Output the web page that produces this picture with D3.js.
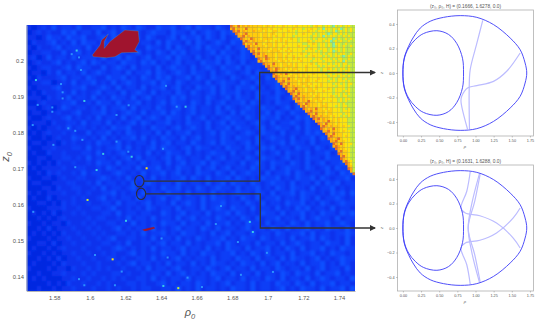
<!DOCTYPE html>
<html>
<head>
<meta charset="utf-8">
<script src="https://cdn.jsdelivr.net/npm/d3@7"></script>
<style>
  body { margin: 0; background: #fff; }
  text { font-family: "Liberation Sans", sans-serif; }
</style>
</head>
<body>
<script>
// heat levels of the blue part, coarse grid of 66 columns and 53 rows (top row first)
var blueRows = [
  "1012131221 3112231213 2132113223 1231322132 1322312132 2312231322 131223",
  "0121211323 1221312312 1321232213 2213123213 2312132231 3221321232 213122",
  "1101322132 2311231322 3121321123 1322313213 1232312213 2312322132 312231",
  "0211231213 1322132213 2312213132 2131321232 1322132312 2132231231 322132",
  "1021123122 2131212313 2211322131 3212313221 3123221312 3221321322 132213",
  "0112211312 3121321322 1231213213 2312212313 2213213231 2231322132 312231",
  "1201312213 1222131231 3212312231 3221312132 3123213221 3213212322 131223",
  "0121123121 2313212213 2213231212 3122132231 3213122313 2132312213 232132",
  "1012211231 3221131232 1312213123 2213123213 2231322123 1322132213 123213",
  "0110213122 1312321221 3122313212 3213221312 3212313221 3212312231 322132",
  "1021112312 2132113223 1213213231 2231321322 1321232132 2132213213 123122",
  "0112201213 1223121312 3212231321 3212213123 2213213122 3132212313 221321",
  "1011123112 2311232131 2213122312 3121322313 2132231212 3122132313 212322",
  "0102112213 1212312213 1232131221 3213212313 2231213221 3213122312 132213",
  "1110212131 2213121322 1312312213 2312213212 3132213122 3123213221 312232",
  "0012111223 1121322131 2231212313 2213213123 1223132121 3221312231 322131",
  "1101201321 2212131223 1312213212 3123122131 3212321322 1231322132 123212",
  "0110112112 3112231212 3213122313 2123122132 1313221231 3213222131 231322",
  "1001211231 2121312213 1231232132 2131231212 3221321322 3121323122 132213",
  "0111021122 1312213121 2313212231 2132213123 1322123213 1223213213 122312",
  "1010112131 2212121322 3112132212 3123213122 3132212312 3221313221 321232",
  "0101211212 1131223121 3212213131 2231212313 2212321322 1312213232 131223",
  "1001012113 2212131212 2313121322 1312312213 2132213123 2213122313 212322",
  "0110110212 1121322131 2122131231 2213212313 2212313212 2313221312 231322",
  "1001121112 2131212231 3121231322 1231322121 3221321323 1221322132 132123",
  "0100211211 1221312123 1221312132 2131212322 1312213212 3132213122 312232",
  "0011011221 2131221212 3131221231 3212213123 1221321322 1231213221 322132",
  "1010102112 1121322131 2213122131 2312231321 2213123213 2213213123 122312",
  "0101111211 2211213212 2131223121 3221312312 3122132213 1232213212 313221",
  "0010212112 1312211232 1213122312 3121322132 1312322131 2231321221 321323",
  "1001101211 2211232121 3122131212 2313213122 3132121322 3121322313 212231",
  "0110011122 1121312212 1312321221 3212213123 1322132123 2213122131 323122",
  "0001102112 2112131221 2312121322 3121321232 2131223121 3213221312 231212",
  "1010111211 2121122312 1213122132 2131221312 1232213213 1223132212 132313",
  "0100201112 1211231212 2131212312 3122131322 1213213122 3122132131 223212",
  "0011010212 1121122131 2212312213 1232131223 1221321312 2132231213 212322",
  "1000111211 2112212311 2121321221 3122131232 1322131221 3121323122 131221",
  "0101020112 1211122131 2212211321 2312213122 3132121322 1312231213 221323",
  "0010101211 1121221121 3122131221 3123122132 1213213122 3122131232 213122",
  "1001011021 1212112212 1312121322 1312213122 3121322131 2213213122 312321",
  "0010201112 1121211231 2122131212 3122132131 2212312213 2131223121 322131",
  "0101010211 2112121122 1213122312 1322121312 3122131221 3212231312 212232",
  "1000101121 1211212311 2212131221 3121321223 1213221321 2213122313 212131",
  "0011020112 1121122121 3112212312 2131212231 3212213122 1312321221 322131",
  "0100101211 1211211232 1212131221 2312213121 3221312231 2132131223 121322",
  "1001010112 1121121211 2312121322 1312132212 2312132131 2213122312 132212",
  "0010102011 2112112212 1122131212 3121221312 2132213122 1313221231 212322",
  "0100010211 1211211121 2312212131 2213121322 1213221312 3122131223 121321",
  "1000101102 1121212112 1121312212 3112213212 3122131221 3212213123 122131",
  "0010011211 1212111221 2112122131 2312121322 1312213122 1321322131 223121",
  "0101000112 1121121212 1122131212 2131221231 2213122132 1312213123 212213",
  "0000101021 1211212111 2212112312 1221321212 3122131221 3221321312 231221",
  "0010010112 1112112121 1212211221 3121312212 1322131221 2312132213 122313"
];

// heat levels of the wedge at the upper right, finer cells, each row ends at the right edge
var wedgeRows = [
  "a98a898988 8887887877 7877778777 7767877677 6g76767766",
  "9a8988a888 8788878777 8777787776 7787767g77 6767g67676",
  "a9a8988898 8878778877 7787767777 8776777676 7g6767676",
  "a989a88888 7887887778 7777677877 7676776g67 76767666",
  "99a8988887 8878787787 7767777776 7767g76776 7676766",
  "a988a98878 8887778777 8776777767 6777677g67 667676",
  "9a98988887 8778787877 7767778767 77677g6767 66766",
  "a8998a8878 8878777877 7777667787 677676g776 67666",
  "9a89888878 8787787777 7877767776 77676g6767 6676",
  "a998a88887 8878778777 7776787767 7767677676 666",
  "9a8988878 8887787877 7767777676 7767g67676 666",
  "a9a898888 7887787777 8776777767 6776767766 76",
  "9989a8887 8878778777 7677877767 676776g676 6",
  "a98a98878 8787787877 7776776777 67677667 66",
  "9a8988887 8878777787 7767777677 76767g76 66",
  "a998a8878 8787877777 8767777676 7767766 6",
  "9a8988788 8878777877 7767677776 767676 6",
  "a98a98878 7887778777 7767787676 77676 6",
  "99a888878 8787787777 7677677767 6776 6",
  "a9898a878 8878777877 7767767776 766 6",
  "9a98887887 8787877777 7767776776 766",
  "a9898a8878 8788777877 7767677676 66",
  "99a8988878 7887787777 6776777676 6",
  "a98a888788 8787778777 7677676776",
  "9a98988878 8778787777 767776766",
  "a989a88878 8787777876 77776766",
  "99a8988788 8777877767 7767766",
  "a98a888878 7877777677 676766",
  "9a98988878 8777787676 77666",
  "a9a8988788 8787777767 67766",
  "99898a8878 8777877676 7666",
  "a98a988878 7877777676 666",
  "9a89888788 8777676776 66",
  "a9898a8878 7877767676 6",
  "99a8988878 8777677766",
  "a98a888788 777767766",
  "9a98988878 77676766",
  "a9a8988787 8777666",
  "99898a8878 777666",
  "a98a888787 77666",
  "9a98988878 7766",
  "a9898a8877 7666",
  "99a8988787 766",
  "a98a888777 66",
  "9a98887876 6",
  "a989a87776 6",
  "99a8887766",
  "a98a87776",
  "9a9887766",
  "a9887766",
  "9a88766",
  "a988766",
  "9a8766",
  "a98766",
  "9a876",
  "a976",
  "986",
  "a96",
  "96",
  "a"
];

// bright single cells scattered over the blue part
var speckRho = [1.5926, 1.5898, 1.5939, 1.5950, 1.5697, 1.5838, 1.5847, 1.5847, 1.5969, 1.5707, 1.5789, 1.5789, 1.5679, 1.5879, 1.5918, 1.6150, 1.6218, 1.6428, 1.6538, 1.5795, 1.5958, 1.6150, 1.6216, 1.6075, 1.6235, 1.6038, 1.5918, 1.6319, 1.5987, 1.6203, 1.6128, 1.5939, 1.5969, 1.6497, 1.6141, 1.6403, 1.6437, 1.6549, 1.6413, 1.6029, 1.6179, 1.5682, 1.6488, 1.6411, 1.6737, 1.6708, 1.6899, 1.6916, 1.6832, 1.7029, 1.6849, 1.6630, 1.6995];
var speckZ = [0.2029, 0.2019, 0.2010, 0.1975, 0.1947, 0.1936, 0.1913, 0.1896, 0.1889, 0.1878, 0.1871, 0.1859, 0.1822, 0.1813, 0.1806, 0.1850, 0.1877, 0.1931, 0.1873, 0.1767, 0.1781, 0.1776, 0.1748, 0.1742, 0.1734, 0.1697, 0.1705, 0.1702, 0.1614, 0.1556, 0.1449, 0.1394, 0.1377, 0.1369, 0.1377, 0.1507, 0.1454, 0.1398, 0.1375, 0.1461, 0.1415, 0.1581, 0.1873, 0.1756, 0.1597, 0.1547, 0.1553, 0.1525, 0.1497, 0.1414, 0.1406, 0.1372, 0.1467];
var speckLevel = [5, 4, 4, 4, 5, 4, 4, 4, 5, 4, 4, 4, 4, 4, 4, 4, 4, 4, 5, 4, 4, 4, 4, 5, 5, 5, 4, 7, 6, 5, 7, 4, 4, 6, 4, 4, 4, 4, 5, 4, 4, 4, 4, 4, 4, 4, 5, 5, 4, 4, 4, 4, 4];

// the two red islands
var bigIslandRho = [1.6014, 1.6057, 1.6066, 1.6104, 1.6081, 1.6081, 1.6113, 1.6160, 1.6197, 1.6272, 1.6278, 1.6253, 1.6272, 1.6179, 1.6141, 1.6094, 1.6019];
var bigIslandZ = [0.2017, 0.2044, 0.2058, 0.2075, 0.2054, 0.2035, 0.2054, 0.2072, 0.2086, 0.2083, 0.2054, 0.2031, 0.2024, 0.2023, 0.2012, 0.2009, 0.2012];
var smallIslandRho = [1.6296, 1.6328, 1.6360, 1.6366, 1.6338, 1.6310];
var smallIslandZ = [0.1531, 0.1535, 0.1539, 0.1535, 0.1531, 0.1528];

var rhoTicks = [1.58, 1.6, 1.62, 1.64, 1.66, 1.68, 1.7, 1.72, 1.74];
var zTicks = [0.14, 0.15, 0.16, 0.17, 0.18, 0.19, 0.2];

// the two orbits that the small panels show
var orbitA = { z0: 0.1666, rho0: 1.6278 };
var orbitB = { z0: 0.1631, rho0: 1.6288 };

// curves of the small panels, [rho, z]
var outerCurve = [[0, 0], [0.018, 0.122], [0.078, 0.218], [0.147, 0.294], [0.239, 0.367], [0.376, 0.422], [0.56, 0.454], [0.789, 0.468], [1.018, 0.454], [1.248, 0.395], [1.477, 0.286], [1.615, 0.19], [1.683, 0.082], [1.706, 0], [1.683, -0.082], [1.615, -0.19], [1.477, -0.286], [1.248, -0.395], [1.018, -0.454], [0.789, -0.468], [0.56, -0.454], [0.376, -0.422], [0.239, -0.367], [0.147, -0.294], [0.078, -0.218], [0.018, -0.122]];
var innerCurve = [[0, 0], [0.018, 0.114], [0.078, 0.204], [0.17, 0.272], [0.284, 0.322], [0.468, 0.345], [0.628, 0.315], [0.743, 0.24], [0.821, 0.12], [0.835, 0], [0.821, -0.12], [0.743, -0.24], [0.628, -0.315], [0.468, -0.345], [0.284, -0.322], [0.17, -0.272], [0.078, -0.204], [0.018, -0.114]];
var crossingA = [
  [[1.10, 0.43], [1.02, 0.245], [0.927, 0.027], [0.913, -0.136], [0.917, -0.457]],
  [[1.615, 0.163], [1.43, 0.014], [1.248, -0.068], [1.018, -0.103], [0.89, -0.122], [0.81, -0.19], [0.80, -0.23], [0.89, -0.457]]
];
var crossingB = [
  [[0.927, 0.457], [0.88, 0.30], [0.80, 0.163], [0.86, 0.122], [1.06, 0.10], [1.29, 0.04], [1.52, -0.082], [1.615, -0.163]],
  [[0.927, -0.457], [0.88, -0.30], [0.80, -0.163], [0.86, -0.122], [1.06, -0.10], [1.29, -0.04], [1.52, 0.082], [1.615, 0.163]],
  [[1.064, 0.44], [0.99, 0.22], [0.90, 0.01], [0.95, -0.2], [1.055, -0.444]],
  [[1.055, 0.444], [0.95, 0.2], [0.90, -0.01], [0.99, -0.22], [1.064, -0.44]]
];

var panelXTicks = [0, 0.25, 0.5, 0.75, 1, 1.25, 1.5, 1.75];
var panelZTicks = [-0.4, -0.2, 0, 0.2, 0.4];

// Step 1: set up the picture
var svgWidth = 538;
var svgHeight = 323;
var map = { left: 26.5, right: 355, top: 25, bottom: 291 };

var svg = d3.select("body").append("svg")
  .attr("width", svgWidth)
  .attr("height", svgHeight)
  .style("display", "block");

var defs = svg.append("defs");
defs.append("clipPath").attr("id", "mapClip").append("rect")
  .attr("x", map.left).attr("y", map.top)
  .attr("width", map.right - map.left).attr("height", map.bottom - map.top);
function addBlur(id, amount) {
  defs.append("filter").attr("id", id).attr("x", "-5%").attr("y", "-5%").attr("width", "110%").attr("height", "110%")
    .append("feGaussianBlur").attr("stdDeviation", amount);
}
addBlur("softBlue", 1);
addBlur("softWedge", 0.75);
addBlur("softLine", 0.25);
defs.append("marker").attr("id", "arrow")
  .attr("viewBox", "0 0 6 6").attr("refX", 5).attr("refY", 3)
  .attr("markerUnits", "userSpaceOnUse")
  .attr("markerWidth", 6).attr("markerHeight", 6).attr("orient", "auto")
  .append("path").attr("d", "M0,0L6,3L0,6Z").attr("fill", "#333");

// Step 2: scales of the big map
var xScale = d3.scaleLinear().domain([1.5644, 1.749]).range([map.left, map.right]);
var yScale = d3.scaleLinear().domain([0.1361, 0.21]).range([map.bottom, map.top]);

var colBand = d3.scaleBand().domain(d3.range(66)).range([map.left, map.right]);
var rowBand = d3.scaleBand().domain(d3.range(blueRows.length)).range([map.top, map.bottom]);

var wedgeCell = 2.5;

var heatColor = d3.scaleOrdinal()
  .domain(["0", "1", "2", "3", "4", "5", "6", "7", "8", "9", "a", "g"])
  .range(["#0626e0", "#0832ec", "#0a3ef6", "#0e50ff", "#2a90ff", "#38c8e8", "#c4ea3c", "#fce40c", "#ffcc08", "#ffac10", "#e87020", "#86eea0"]);

// Step 3: heat map cells
var mapGroup = svg.append("g").attr("clip-path", "url(#mapClip)");
mapGroup.append("rect")
  .attr("x", map.left).attr("y", map.top)
  .attr("width", map.right - map.left).attr("height", map.bottom - map.top)
  .attr("fill", heatColor("1"));

var blueGroup = mapGroup.append("g").attr("filter", "url(#softBlue)");
blueRows.forEach(function(row, rowIndex) {
  var cells = row.replace(/ /g, "").split("");
  blueGroup.selectAll(null)
    .data(cells)
    .enter()
    .append("rect")
    .attr("x", function(d, i) { return colBand(i); })
    .attr("y", rowBand(rowIndex))
    .attr("width", colBand.bandwidth() + 0.3)
    .attr("height", rowBand.bandwidth() + 0.3)
    .attr("fill", function(d) { return heatColor(d); });
});

// wedge rows are counted from the right edge of the map
var wedgeGroup = mapGroup.append("g").attr("filter", "url(#softWedge)");
wedgeRows.forEach(function(row, rowIndex) {
  var cells = row.replace(/ /g, "").split("");
  wedgeGroup.selectAll(null)
    .data(cells)
    .enter()
    .append("rect")
    .attr("x", function(d, i) { return map.right - (cells.length - i) * wedgeCell; })
    .attr("y", map.top + rowIndex * wedgeCell)
    .attr("width", wedgeCell + 0.2)
    .attr("height", wedgeCell + 0.2)
    .attr("fill", function(d) { return heatColor(d); });
});

// bright cells
mapGroup.append("g").attr("filter", "url(#softLine)").selectAll("rect")
  .data(speckRho)
  .enter()
  .append("rect")
  .attr("x", function(d) { return xScale(d) - 1; })
  .attr("y", function(d, i) { return yScale(speckZ[i]) - 1; })
  .attr("width", 2)
  .attr("height", 2)
  .attr("fill", function(d, i) { return heatColor(String(speckLevel[i])); });

// red islands
var islandLine = d3.line()
  .x(function(d) { return xScale(d[0]); })
  .y(function(d) { return yScale(d[1]); });

[d3.zip(bigIslandRho, bigIslandZ), d3.zip(smallIslandRho, smallIslandZ)].forEach(function(island, i) {
  mapGroup.append("path")
    .attr("d", islandLine(island) + "Z")
    .attr("fill", "#a0142e")
    .attr("stroke", i == 0 ? "#3fc8d8" : "#a0142e")
    .attr("stroke-opacity", i == 0 ? 0.3 : 1)
    .attr("stroke-width", i == 0 ? 0.8 : 0.3);
});

// Step 4: axes of the big map
var bottomAxis = d3.axisBottom(xScale).tickValues(rhoTicks).tickSize(0).tickPadding(5).tickFormat(String);
var leftAxis = d3.axisLeft(yScale).tickValues(zTicks).tickSize(0).tickPadding(2.5).tickFormat(String);

function styleAxis(group) {
  group.selectAll("path").attr("stroke", "#b4b4b4").attr("stroke-width", 1);
  group.selectAll("text").attr("fill", "#555").style("font-size", "5.8px");
}

styleAxis(svg.append("g").attr("transform", "translate(0," + map.bottom + ")").call(bottomAxis));
styleAxis(svg.append("g").attr("transform", "translate(" + map.left + ",0)").call(leftAxis));

svg.append("text")
  .attr("x", 190).attr("y", 316)
  .attr("text-anchor", "middle")
  .attr("fill", "#555")
  .style("font-size", "11px")
  .style("font-style", "italic")
  .html('ρ<tspan dy="2.5" font-size="7.5px">0</tspan>');

svg.append("text")
  .attr("transform", "translate(9,157) rotate(-90)")
  .attr("text-anchor", "middle")
  .attr("fill", "#555")
  .style("font-size", "11px")
  .style("font-style", "italic")
  .html('z<tspan dy="2.5" font-size="7.5px">0</tspan>');

// Step 5: small panels
function drawPanel(top, orbit, crossings) {
  var box = { left: 397.5, right: 533.5, top: top, bottom: top + 126 };
  var px = d3.scaleLinear().domain([-0.0744, 1.799]).range([box.left, box.right]);
  var pz = d3.scaleLinear().domain([-0.514, 0.514]).range([box.bottom, box.top]);

  var panel = svg.append("g");
  panel.append("rect")
    .attr("x", box.left).attr("y", box.top)
    .attr("width", box.right - box.left).attr("height", box.bottom - box.top)
    .attr("fill", "#fff")
    .attr("stroke", "#b0b0b0")
    .attr("stroke-width", 0.8);

  var curve = d3.line()
    .x(function(d) { return px(d[0]); })
    .y(function(d) { return pz(d[1]); });

  var lines = panel.append("g").attr("filter", "url(#softLine)");

  crossings.forEach(function(points) {
    lines.append("path")
      .attr("d", curve.curve(d3.curveCatmullRom)(points))
      .attr("fill", "none")
      .attr("stroke", "#bcbcff")
      .attr("stroke-width", 1.2);
  });

  [outerCurve, innerCurve].forEach(function(points) {
    lines.append("path")
      .attr("d", curve.curve(d3.curveCatmullRomClosed)(points))
      .attr("fill", "none")
      .attr("stroke", "#3c3cf8")
      .attr("stroke-width", 0.9);
  });

  var xAxisGroup = panel.append("g")
    .attr("transform", "translate(0," + box.bottom + ")")
    .call(d3.axisBottom(px).tickValues(panelXTicks).tickSize(1.5).tickPadding(1.5).tickFormat(d3.format(".2f")));
  var zAxisGroup = panel.append("g")
    .attr("transform", "translate(" + box.left + ",0)")
    .call(d3.axisLeft(pz).tickValues(panelZTicks).tickSize(1.5).tickPadding(1.5).tickFormat(d3.format(".1f")));

  [xAxisGroup, zAxisGroup].forEach(function(group) {
    group.select("path").remove();
    group.selectAll("line").attr("stroke", "#777").attr("stroke-width", 0.4);
    group.selectAll("text").attr("fill", "#555").style("font-size", "3.8px");
  });

  panel.append("text")
    .attr("x", (box.left + box.right) / 2).attr("y", box.top - 2.2)
    .attr("text-anchor", "middle")
    .attr("fill", "#555")
    .style("font-size", "4.8px")
    .text("(z₀, ρ₀, H) = (" + orbit.z0.toFixed(4) + ", " + orbit.rho0.toFixed(4) + ", 0.0)");

  panel.append("text")
    .attr("x", (box.left + box.right) / 2 - 0.5).attr("y", box.bottom + 12)
    .attr("text-anchor", "middle")
    .attr("fill", "#555")
    .style("font-size", "4px")
    .style("font-style", "italic")
    .text("ρ");

  panel.append("text")
    .attr("transform", "translate(383," + ((box.top + box.bottom) / 2) + ") rotate(-90)")
    .attr("text-anchor", "middle")
    .attr("fill", "#555")
    .style("font-size", "4px")
    .style("font-style", "italic")
    .text("z");
}

drawPanel(10, orbitA, crossingA);
drawPanel(165, orbitB, crossingB);

// Step 6: circles and arrows that tie the map to the panels
[orbitA, orbitB].forEach(function(orbit) {
  svg.append("ellipse")
    .attr("cx", xScale(orbit.rho0))
    .attr("cy", yScale(orbit.z0))
    .attr("rx", 4.6)
    .attr("ry", 5.7)
    .attr("fill", "none")
    .attr("stroke", "#2d2d3a")
    .attr("stroke-width", 1.1);
});

function drawLink(orbit, bendX, endY) {
  var startX = xScale(orbit.rho0) + 4.6;
  var startY = yScale(orbit.z0);
  svg.append("path")
    .attr("d", "M" + startX + "," + startY + "H" + bendX + "V" + endY + "H375")
    .attr("fill", "none")
    .attr("stroke", "#333")
    .attr("stroke-width", 1.3)
    .attr("marker-end", "url(#arrow)");
}

drawLink(orbitA, 259.7, 72.5);
drawLink(orbitB, 260.3, 228);
</script>
</body>
</html>
